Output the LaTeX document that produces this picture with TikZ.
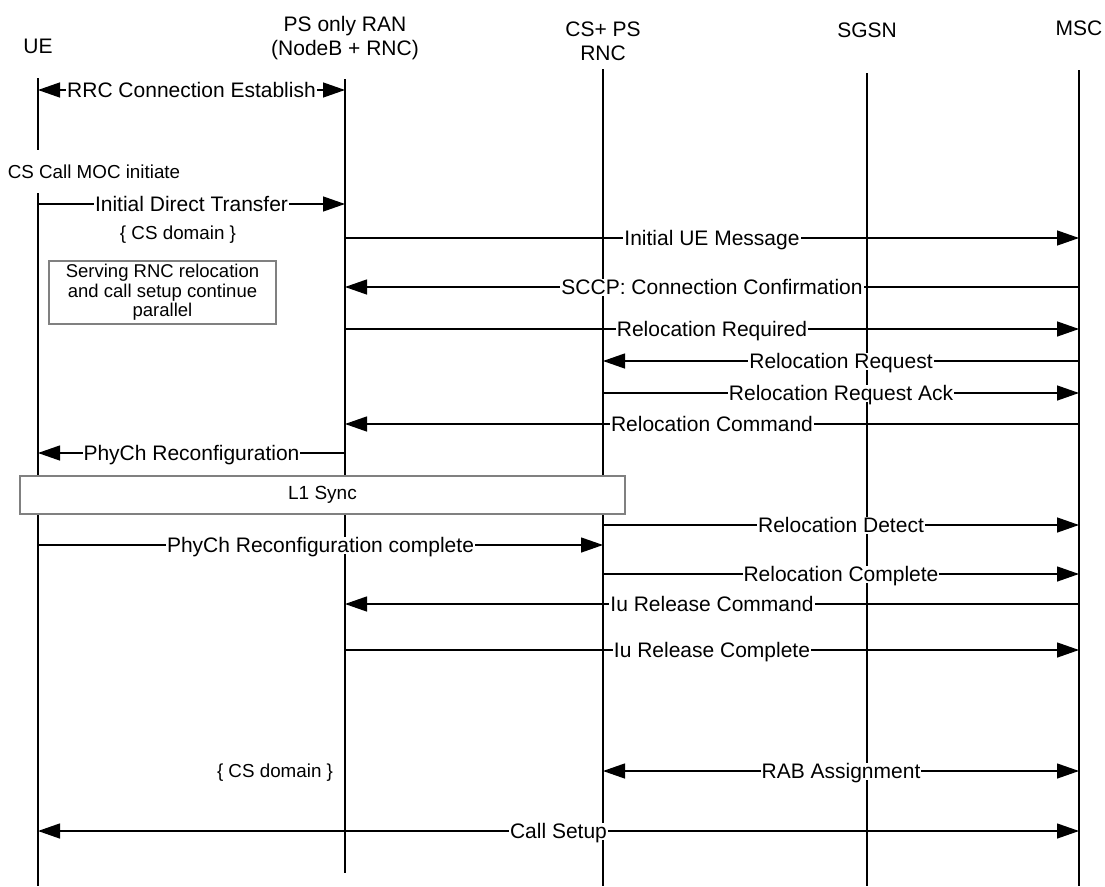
\documentclass[tikz,border=0pt]{standalone}
\usepackage{fontspec}
\setmainfont{Liberation Sans}
\usetikzlibrary{arrows.meta}
\begin{document}
\begin{tikzpicture}[x=1pt,y=-1pt,
  mtri/.tip={Triangle[length=22pt,width=15pt]},
  life/.style={line width=1.3pt},
  msg/.style={line width=1.3pt,-mtri},
  dmsg/.style={line width=1.3pt,mtri-mtri},
  lbl/.style={fill=white,inner xsep=1pt,inner ysep=1pt,font=\fontsize{21}{21}\selectfont,text height=15pt,text depth=0pt},
  hdr/.style={anchor=north,inner sep=0pt,align=center,font=\fontsize{21}{24}\selectfont},
  note/.style={inner sep=0pt,font=\fontsize{18.8}{20}\selectfont},
  grbox/.style={draw=gray,fill=white,line width=1.3pt}
]
\useasboundingbox (0,0) rectangle (1105,886);
% headers
\node[hdr] (ue) at (38,39) {UE};
\node[hdr] (ran) at (345,16) {PS only RAN\\(NodeB + RNC)};
\node[hdr] (rnc) at (603,22) {CS+ PS\\RNC};
\node[hdr] (sgsn) at (867,23) {SGSN};
\node[hdr] (msc) at (1079,21) {MSC};
% lifelines
\coordinate (ueT) at (38,78);  \coordinate (ueG1) at (38,150);
\coordinate (ueG2) at (38,193); \coordinate (ueB) at (38,886);
\coordinate (ranT) at (345,79); \coordinate (ranB) at (345,873);
\coordinate (rncT) at (603,69); \coordinate (rncB) at (603,886);
\coordinate (sgsnT) at (867,73); \coordinate (sgsnB) at (867,886);
\coordinate (mscT) at (1079,70); \coordinate (mscB) at (1079,886);
\draw[life] (ueT) -- (ueG1) (ueG2) -- (ueB);
\draw[life] (ranT) -- (ranB);
\draw[life] (rncT) -- (rncB);
\draw[life] (sgsnT) -- (sgsnB);
\draw[life] (mscT) -- (mscB);
% notes
\node[note] (moc) at (94,172) {CS Call MOC initiate};
\node[note] (dom1) at (178,235) {\{ CS domain \}};
\node[note] (dom2) at (275,773) {\{ CS domain \}};
% messages
\draw[dmsg] (ue |- 0,90) -- node[lbl] {RRC Connection Establish} (ran |- 0,90);
\draw[msg] (ue |- 0,204) -- node[lbl] {Initial Direct Transfer} (ran |- 0,204);
\draw[msg] (ran |- 0,238) -- node[lbl] {Initial UE Message} (msc |- 0,238);
\draw[msg] (msc |- 0,287) -- node[lbl] {SCCP: Connection Confirmation} (ran |- 0,287);
\draw[msg] (ran |- 0,329) -- node[lbl] {Relocation Required} (msc |- 0,329);
\draw[msg] (msc |- 0,361) -- node[lbl] {Relocation Request} (rnc |- 0,361);
\draw[msg] (rnc |- 0,393) -- node[lbl] {Relocation Request Ack} (msc |- 0,393);
\draw[msg] (msc |- 0,424) -- node[lbl] {Relocation Command} (ran |- 0,424);
\draw[msg] (ran |- 0,453) -- node[lbl] {PhyCh Reconfiguration} (ue |- 0,453);
\draw[msg] (rnc |- 0,525) -- node[lbl] {Relocation Detect} (msc |- 0,525);
\draw[msg] (ue |- 0,545) -- node[lbl] {PhyCh Reconfiguration complete} (rnc |- 0,545);
\draw[msg] (rnc |- 0,574) -- node[lbl] {Relocation Complete} (msc |- 0,574);
\draw[msg] (msc |- 0,604) -- node[lbl] {Iu Release Command} (ran |- 0,604);
\draw[msg] (ran |- 0,650) -- node[lbl] {Iu Release Complete} (msc |- 0,650);
\draw[dmsg] (rnc |- 0,771) -- node[lbl] {RAB Assignment} (msc |- 0,771);
\draw[dmsg] (ue |- 0,831) -- node[lbl] {Call Setup} (msc |- 0,831);
% boxes
\node[grbox,minimum width=227pt,minimum height=63pt,inner sep=0pt,align=center,
  font=\fontsize{18.5}{19.5}\selectfont] (par) at (162.5,292.5)
  {Serving RNC relocation\\and call setup continue\\parallel};
\node[grbox,minimum width=605pt,minimum height=38pt,inner sep=0pt,
  font=\fontsize{19}{19}\selectfont] (l1) at (322.5,495) {L1 Sync};
\end{tikzpicture}
\end{document}
